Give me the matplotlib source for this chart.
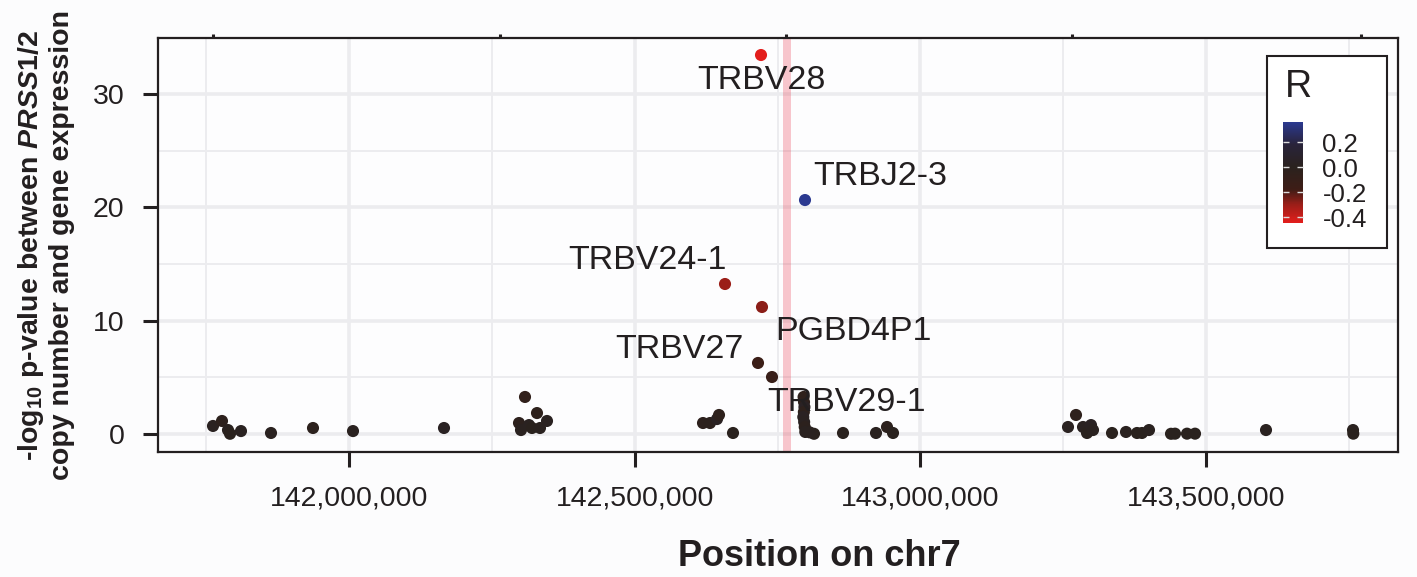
"""
Locus plot around PRSS1/2 on chr7: -log10 p-value of the copy-number /
expression association for each nearby gene, coloured by correlation R.
"""

import matplotlib
matplotlib.use("Agg")
import matplotlib.pyplot as plt
from matplotlib.colors import LinearSegmentedColormap, Normalize
from matplotlib.patches import Rectangle
from matplotlib.ticker import FuncFormatter, MultipleLocator

plt.rcParams["font.family"] = ["Liberation Sans", "DejaVu Sans"]
plt.rcParams["mathtext.fontset"] = "custom"
plt.rcParams["mathtext.rm"] = "Liberation Sans:bold"
plt.rcParams["mathtext.it"] = "Liberation Sans:bold:italic"
plt.rcParams["mathtext.bf"] = "Liberation Sans:bold"

INK = "#231f20"
GRID = "#ececef"

# genes: position (bp), -log10 p, correlation R
posicion = [
    141_762_000, 141_777_750, 141_788_250, 141_791_750, 141_811_000,
    141_863_500, 141_937_000, 142_007_000, 142_166_250,
    142_297_500, 142_301_000, 142_308_000, 142_315_000, 142_320_250,
    142_329_000, 142_334_250, 142_346_500,
    142_619_500, 142_631_750, 142_644_000, 142_647_500, 142_672_000,
    142_658_000, 142_721_000, 142_722_750, 142_715_750, 142_740_250,
    142_798_000,
    142_795_500, 142_796_250, 142_797_000, 142_796_000, 142_795_000,
    142_796_500, 142_797_500, 142_798_500, 142_813_750, 142_806_000,
    142_864_500, 142_922_250, 142_941_500, 142_952_000,
    143_258_250, 143_272_250, 143_284_500, 143_291_500, 143_298_500,
    143_302_000, 143_335_250, 143_359_750, 143_379_000, 143_387_750,
    143_400_000, 143_438_500, 143_445_500, 143_466_500, 143_480_500,
    143_604_750, 143_757_000, 143_757_500,
]
log_p = [
    0.71, 1.15, 0.35, 0.02, 0.26,
    0.09, 0.53, 0.26, 0.53,
    0.97, 0.35, 3.27, 0.79, 0.53,
    1.85, 0.53, 1.15,
    0.97, 0.97, 1.32, 1.68, 0.09,
    13.24, 33.45, 11.21, 6.27, 5.03,
    20.65,
    3.27, 2.82, 2.38, 1.94, 1.50,
    1.06, 0.62, 0.18, 0.02, 0.15,
    0.09, 0.09, 0.62, 0.09,
    0.62, 1.68, 0.62, 0.09, 0.79,
    0.35, 0.09, 0.18, 0.09, 0.09,
    0.35, 0.02, 0.03, 0.03, 0.03,
    0.35, 0.35, 0.03,
]
corr_r = [
    0.02, -0.03, 0.01, 0.00, 0.02,
    0.01, -0.02, 0.01, 0.03,
    -0.03, 0.01, -0.06, 0.02, 0.00,
    -0.04, 0.01, 0.02,
    -0.03, -0.02, 0.03, -0.04, 0.00,
    -0.30, -0.448, -0.28, -0.15, -0.12,
    0.36,
    -0.05, -0.05, 0.04, -0.04, 0.03,
    0.02, -0.02, 0.01, 0.00, 0.01,
    0.00, 0.01, -0.02, 0.00,
    0.02, -0.04, 0.02, 0.00, 0.03,
    0.01, 0.00, 0.01, 0.00, 0.00,
    0.01, 0.00, 0.00, 0.00, 0.00,
    0.01, 0.01, 0.00,
]

# labelled genes (index into the arrays above) and where their text sits
etiquetas = {
    23: ("TRBV28", 142_721_000, 31.16),
    27: ("TRBJ2-3", 142_929_000, 22.77),
    22: ("TRBV24-1", 142_521_500, 15.27),
    24: ("PGBD4P1", 142_882_000, 9.09),
    25: ("TRBV27", 142_579_000, 7.50),
    29: ("TRBV29-1", 142_870_000, 2.74),
}

PRSS_REGION = (142_759_000, 142_774_000)
TOP_MARKS = [141_762_000, 142_264_000, 142_765_000, 143_265_000, 143_771_000]
R_TICKS = [0.2, 0.0, -0.2, -0.4]
R_MIN, R_MAX = -0.448, 0.36

# red -> near black -> navy
nodos = [(-0.448, "#e31e1c"), (-0.30, "#9a1e18"), (-0.18, "#3e1d16"),
         (0.0, "#2a221e"), (0.18, "#29233a"), (0.36, "#2b3990")]
cmap = LinearSegmentedColormap.from_list(
    "r_gradient", [((v - R_MIN) / (R_MAX - R_MIN), c) for v, c in nodos])
norm = Normalize(R_MIN, R_MAX)

fig = plt.figure(figsize=(14.17, 5.77), dpi=100, facecolor="#fcfcfd")
ax = fig.add_axes([0.1115, 0.2166, 0.8751, 0.7175])
ax.set_facecolor("#fdfdfe")

ax.set_xlim(141_665_750, 143_835_750)
ax.set_ylim(-1.59, 34.95)

ax.xaxis.set_major_locator(MultipleLocator(500_000))
ax.xaxis.set_minor_locator(MultipleLocator(250_000))
ax.yaxis.set_major_locator(MultipleLocator(10))
ax.yaxis.set_minor_locator(MultipleLocator(5))
ax.xaxis.set_major_formatter(FuncFormatter(lambda v, p: f"{v:,.0f}"))

ax.grid(True, which="major", color=GRID, linewidth=2.6, zorder=0)
ax.grid(True, which="minor", color=GRID, linewidth=1.4, zorder=0)
ax.set_axisbelow(True)

ax.tick_params(which="major", length=11, width=2.2, color=INK,
               labelsize=20.5, labelcolor=INK, pad=13)
ax.tick_params(which="minor", length=0)
for sp in ax.spines.values():
    sp.set_color(INK)
    sp.set_linewidth(1.6)

ax.axvspan(*PRSS_REGION, color="#e8273f", alpha=0.26, lw=0, zorder=1)

ax.scatter(posicion, log_p, c=corr_r, cmap=cmap, norm=norm, s=76,
           linewidths=0, zorder=3)

for i, (nombre, tx, ty) in etiquetas.items():
    ax.text(tx, ty, nombre, fontsize=24.5, color=INK, ha="center",
            va="center", zorder=4)

# small marks on the top border
top = ax.secondary_xaxis("top")
top.set_xticks(TOP_MARKS)
top.set_xticklabels([])
top.tick_params(length=3, width=2.2, color=INK)
top.spines["top"].set_visible(False)

fig.text(46 / 1417, 1 - 245 / 577,
         "-log$_{10}$ p-value between $\\mathit{PRSS1/2}$\n"
         "copy number and gene expression",
         rotation=90, ha="center", va="center", fontsize=20.5,
         fontweight="bold", color=INK, linespacing=1.15)
fig.text(819 / 1417, 1 - 557 / 577, "Position on chr7", ha="center",
         va="center", fontsize=26, fontweight="bold", color=INK)

# legend box with colour bar
caja = Rectangle((1267 / 1417, 1 - 248 / 577), 120 / 1417, 192 / 577,
                 transform=fig.transFigure, facecolor="white",
                 edgecolor=INK, linewidth=1.5, zorder=10)
ax.add_artist(caja)
caja.set_clip_on(False)

cax = fig.add_axes([1283 / 1417, 1 - 223 / 577, 20 / 1417, 101 / 577])
sm = plt.cm.ScalarMappable(norm=norm, cmap=cmap)
cb = fig.colorbar(sm, cax=cax, ticks=R_TICKS)
cb.outline.set_visible(False)
cb.ax.set_yticklabels([f"{t:.1f}" for t in R_TICKS])
cax.tick_params(direction="in", length=4, width=1, colors="#dddddd",
                left=True, right=True, labelsize=18.5, pad=14)
for lab in cax.get_yticklabels():
    lab.set_color(INK)
fig.text(1285 / 1417, 1 - 87 / 577, "R", fontsize=27, color=INK,
         ha="left", va="center")

fig.savefig("out.png", dpi=100, facecolor=fig.get_facecolor())
plt.close(fig)
